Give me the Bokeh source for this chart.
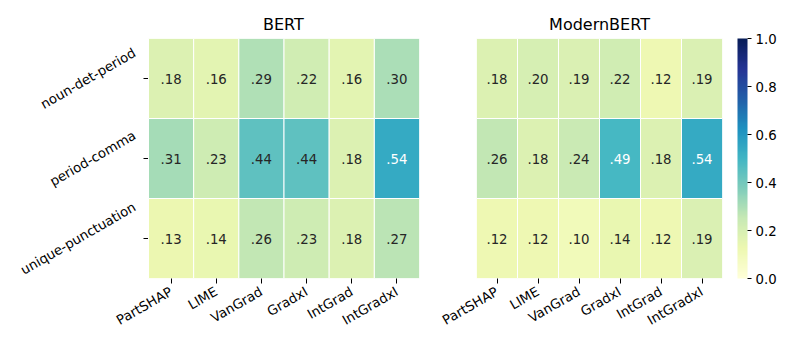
import numpy as np
from bokeh.plotting import figure
from bokeh.models import (ColumnDataSource, LinearColorMapper, ColorBar, FixedTicker,
                          FactorRange, Range1d, PrintfTickFormatter)
from bokeh.layouts import row
from bokeh.embed import file_html
from bokeh.resources import INLINE
from bokeh.transform import transform

methods = ["PartSHAP", "LIME", "VanGrad", "GradxI", "IntGrad", "IntGradxI"]
patterns = ["noun-det-period", "period-comma", "unique-punctuation"]

bert_noun_det_period = [0.18, 0.16, 0.29, 0.22, 0.16, 0.30]
bert_period_comma = [0.31, 0.23, 0.44, 0.44, 0.18, 0.54]
bert_unique_punct = [0.13, 0.14, 0.26, 0.23, 0.18, 0.27]

modern_noun_det_period = [0.18, 0.20, 0.19, 0.22, 0.12, 0.19]
modern_period_comma = [0.26, 0.18, 0.24, 0.49, 0.18, 0.54]
modern_unique_punct = [0.12, 0.12, 0.10, 0.14, 0.12, 0.19]

colorbar_ticks = [0.0, 0.2, 0.4, 0.6, 0.8, 1.0]

# YlGnBu (ColorBrewer 9-class) anchors
ylgnbu = ["#ffffd9", "#edf8b1", "#c7e9b4", "#7fcdbb", "#41b6c4",
          "#1d91c0", "#225ea8", "#253494", "#081d58"]

def hex2rgb(h):
    return np.array([int(h[i:i + 2], 16) for i in (1, 3, 5)], dtype=float)

anchors = np.array([hex2rgb(c) for c in ylgnbu])
pos = np.linspace(0, 1, len(ylgnbu))

def cmap(v):
    return np.array([np.interp(v, pos, anchors[:, k]) for k in range(3)])

palette = []
for t in np.linspace(0, 1, 256):
    r, g, b = cmap(t)
    palette.append("#%02x%02x%02x" % (int(round(r)), int(round(g)), int(round(b))))

def luminance(rgb):
    c = rgb / 255.0
    c = np.where(c <= 0.03928, c / 12.92, ((c + 0.055) / 1.055) ** 2.4)
    return 0.2126 * c[0] + 0.7152 * c[1] + 0.0722 * c[2]

mapper = LinearColorMapper(palette=palette, low=0.0, high=1.0)
FONT = "DejaVu Sans"
FS = 13.3
TFS = 16
FH = 240
TOP, BOTTOM = 38, 61
LABEL_W = 148          # room for the rotated row names, left of the BERT cells
W1, W2 = 271, 246      # cell-area widths of the two heatmaps
ANG = np.pi / 6

# DejaVu Sans advance widths (em), used to place rotated / offset texts
char_w = {"a": .613, "c": .550, "d": .635, "e": .615, "i": .278, "m": .974, "n": .634,
          "o": .612, "p": .635, "q": .635, "r": .411, "t": .392, "u": .634, "-": .361,
          "B": .686, "E": .632, "R": .695, "T": .611}

def text_w(s, fs):
    return sum(char_w[c] for c in s) * fs

y_range = FactorRange(*reversed(patterns))
y_range.range_padding = 0

def make_source(rows, xs_of):
    xs, ys, vals, labels, tcolors = [], [], [], [], []
    for pat, vals_row in zip(patterns, rows):
        for m, v in zip(methods, vals_row):
            xs.append(xs_of[m])
            ys.append(pat)
            vals.append(v)
            labels.append(("%.2f" % v).lstrip("0"))
            tcolors.append("#262626" if luminance(cmap(v)) > 0.408 else "#ffffff")
    return ColumnDataSource(dict(x=xs, y=ys, value=vals, label=labels, tcolor=tcolors))

def style(p, title_offset=None):
    p.title.text_font = FONT
    p.title.text_font_size = "%dpx" % TFS
    p.title.text_font_style = "normal"
    p.title.text_color = "black"
    if title_offset is None:
        p.title.align = "center"
    else:
        p.title.align = "left"
        p.title.offset = title_offset
    p.outline_line_color = None
    p.grid.visible = False
    for ax in p.axis:
        ax.axis_line_color = None
        ax.major_tick_line_color = "black"
        ax.major_tick_line_width = 1
        ax.major_tick_out = 5
        ax.major_tick_in = 0
        ax.minor_tick_line_color = None
        ax.major_label_text_font = FONT
        ax.major_label_text_font_size = "%.1fpx" % FS
        ax.major_label_text_color = "black"
        ax.major_label_standoff = 7
        ax.major_label_orientation = ANG

def draw_cells(p, src):
    p.rect(x="x", y="y", width=1, height=1, source=src,
           fill_color=transform("value", mapper), line_color="white", line_width=1)
    p.text(x="x", y="y", text="label", source=src, text_align="center",
           text_baseline="middle", text_color="tcolor", text_font_size="%.1fpx" % FS,
           text_font={"value": FONT})

# ---- BERT: numeric x so that the row-name area lies inside the same canvas
unit = W1 / len(methods)
centers = {m: i + 0.5 for i, m in enumerate(methods)}
p1 = figure(x_range=Range1d(-LABEL_W / unit, len(methods)), y_range=y_range,
            frame_width=LABEL_W + W1, frame_height=FH,
            min_border_left=0, min_border_right=10,
            min_border_top=TOP, min_border_bottom=BOTTOM,
            y_axis_location=None, toolbar_location=None, output_backend="svg",
            title="BERT")
style(p1, title_offset=LABEL_W + W1 / 2 - text_w("BERT", TFS) / 2)
p1.xaxis.ticker = FixedTicker(ticks=[centers[m] for m in methods])
p1.xaxis.major_label_overrides = {centers[m]: m for m in methods}

# y tick marks (drawn first, the cells cover their inner half)
tick_src = ColumnDataSource(dict(x=[0] * len(patterns), y=patterns))
p1.scatter(x="x", y="y", source=tick_src, marker="dash", size=10,
           line_color="black", line_width=1, fill_color=None)
draw_cells(p1, make_source([bert_noun_det_period, bert_period_comma, bert_unique_punct], centers))

# rotated row names: rotated box right-aligned next to the ticks, centred on its row
offs = []
for s in patterns:
    bw = text_w(s, FS) * np.cos(ANG) + FS * np.sin(ANG)
    offs.append(-(10.5 + bw / 2))
lsrc = ColumnDataSource(dict(x=[0] * len(patterns), y=patterns, text=patterns, xoff=offs))
p1.text(x="x", y="y", text="text", source=lsrc, x_offset="xoff", angle=ANG,
        text_align="center", text_baseline="middle", text_font={"value": FONT},
        text_font_size="%.1fpx" % FS, text_color="black")

# ---- ModernBERT
p2 = figure(x_range=FactorRange(*methods), y_range=y_range,
            frame_width=W2, frame_height=FH,
            min_border_left=47, min_border_right=65,
            min_border_top=TOP, min_border_bottom=BOTTOM,
            y_axis_location=None, toolbar_location=None, output_backend="svg",
            title="ModernBERT")
p2.x_range.range_padding = 0
style(p2)
draw_cells(p2, make_source([modern_noun_det_period, modern_period_comma, modern_unique_punct],
                           {m: m for m in methods}))

cb = ColorBar(color_mapper=mapper, width=10, height=FH, padding=0, margin=0,
              ticker=FixedTicker(ticks=colorbar_ticks), location=(15, 0),
              major_tick_out=4, major_tick_in=0, major_tick_line_color="black",
              major_label_text_font=FONT, major_label_text_font_size="%.1fpx" % FS,
              major_label_text_color="black", label_standoff=4,
              formatter=PrintfTickFormatter(format="%.1f"),
              bar_line_color=None, border_line_color=None, background_fill_color=None)
p2.add_layout(cb, "right")

layout = row(p1, p2)
open("out.html", "w").write(file_html(layout, INLINE))
